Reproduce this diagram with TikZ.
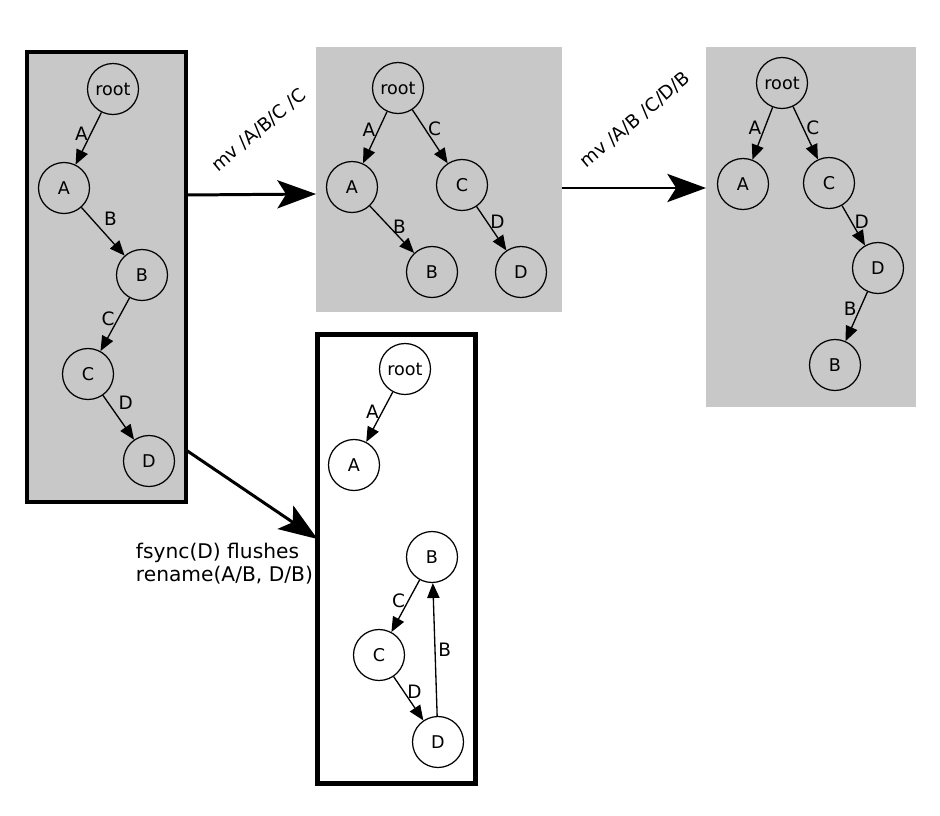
\documentclass[tikz,border=0pt]{standalone}
\usepackage{fontspec}
\setmainfont{DejaVu Sans}
\usepackage{tikz}
\usetikzlibrary{arrows.meta,positioning}
\definecolor{panelgray}{RGB}{200,200,200}
\tikzset{
  vert/.style={circle,draw=black,line width=.7pt,minimum size=10.2mm,inner sep=0pt,font=\fontsize{10}{12}\selectfont},
  edge/.style={line width=.75pt,-{Triangle[length=8.5pt,width=7pt]}},
  lab/.style={font=\fontsize{10.5}{12}\selectfont,inner sep=1.5pt},
  grayframe/.style={rectangle,draw=black,line width=2.3pt,fill=panelgray,inner sep=0pt,outer sep=0pt},
  graypanel/.style={rectangle,fill=panelgray,inner sep=0pt,outer sep=0pt},
  whiteframe/.style={rectangle,draw=black,line width=2.6pt,fill=white,inner sep=0pt,outer sep=0pt},
  bigarrow/.style={line width=1.7pt,-{Stealth[length=22pt,width=16pt,inset=5pt]}},
  steplab/.style={font=\fontsize{10.5}{12}\selectfont,rotate=40}
}
\begin{document}
\begin{tikzpicture}[x=0.02cm,y=-0.02cm]
  \useasboundingbox (0,0) rectangle (940,815);
  % panels
  \node[grayframe,minimum width=3.18cm,minimum height=9.02cm] (before) at (106.5,277) {};
  \node[graypanel,minimum width=4.92cm,minimum height=5.3cm] (after1) at (439,179.5) {};
  \node[graypanel,minimum width=4.2cm,minimum height=7.2cm] (after2) at (811,227) {};
  \node[whiteframe,minimum width=3.16cm,minimum height=8.98cm] (crash) at (396.5,559) {};

  % tree before the renames
  \node[vert] (r0) at (113,89) {root};
  \node[vert] (a0) at (64,188) {A};
  \node[vert] (b0) at (142,275) {B};
  \node[vert] (c0) at (88,374) {C};
  \node[vert] (d0) at (149,461) {D};
  \draw[edge] (r0) -- node[lab,pos=.4,left] {A} (a0);
  \draw[edge] (a0) -- node[lab,pos=.45,above right] {B} (b0);
  \draw[edge] (b0) -- node[lab,pos=.4,left] {C} (c0);
  \draw[edge] (c0) -- node[lab,pos=.4,above right] {D} (d0);

  % after mv /A/B/C /C
  \node[vert] (r1) at (398,88) {root};
  \node[vert] (a1) at (352,187) {A};
  \node[vert] (c1) at (462,185) {C};
  \node[vert] (b1) at (432,272) {B};
  \node[vert] (d1) at (521,272) {D};
  \draw[edge] (r1) -- node[lab,pos=.35,left] {A} (a1);
  \draw[edge] (r1) -- node[lab,pos=.35,right] {C} (c1);
  \draw[edge] (a1) -- node[lab,pos=.45,right] {B} (b1);
  \draw[edge] (c1) -- node[lab,pos=.35,right] {D} (d1);

  % after mv /A/B /C/D/B
  \node[vert] (r2) at (782,83) {root};
  \node[vert] (a2) at (743,184) {A};
  \node[vert] (c2) at (829,183) {C};
  \node[vert] (d2) at (878,268) {D};
  \node[vert] (b2) at (835,365) {B};
  \draw[edge] (r2) -- node[lab,pos=.4,left] {A} (a2);
  \draw[edge] (r2) -- node[lab,pos=.4,right] {C} (c2);
  \draw[edge] (c2) -- node[lab,pos=.4,right] {D} (d2);
  \draw[edge] (d2) -- node[lab,pos=.35,left] {B} (b2);

  % on disk after fsync(D)
  \node[vert,fill=white] (r3) at (405,369) {root};
  \node[vert,fill=white] (a3) at (354,465) {A};
  \node[vert,fill=white] (b3) at (432,557) {B};
  \node[vert,fill=white] (c3) at (379,655) {C};
  \node[vert,fill=white] (d3) at (438,742) {D};
  \draw[edge] (r3) -- node[lab,pos=.4,left] {A} (a3);
  \draw[edge] (b3) -- node[lab,pos=.4,left] {C} (c3);
  \draw[edge] (c3) -- node[lab,pos=.35,right] {D} (d3);
  \draw[edge] (d3) -- node[lab,pos=.5,right] {B} (b3);

  % transitions
  \draw[bigarrow] (before.east |- 0,195) -- (after1.west |- 0,194);
  \node[steplab] (mv1) at (259,130) {mv /A/B/C /C};
  \draw[bigarrow] (after1.east |- 0,188) -- (after2.west |- 0,188);
  \node[steplab] (mv2) at (635,120) {mv /A/B /C/D/B};
  \draw[bigarrow] (before.east |- 0,450) -- (crash.west |- 0,539);
  \node[lab,align=left,anchor=north west,font=\fontsize{11.5}{13}\selectfont] (flush) at (133,540) {fsync(D) flushes\\rename(A/B, D/B)};
\end{tikzpicture}
\end{document}
